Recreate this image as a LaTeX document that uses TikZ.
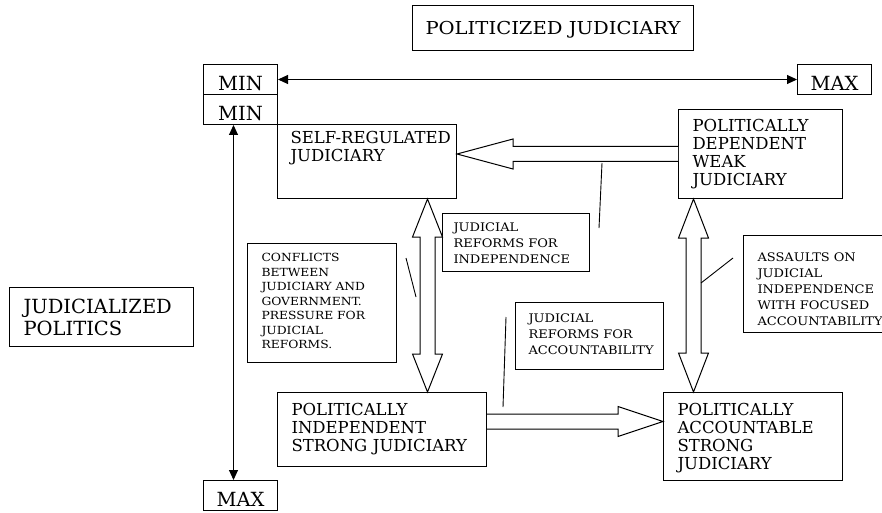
\documentclass[tikz,border=0pt]{standalone}
\usepackage{fontspec}
\setmainfont{DejaVu Serif}
\newfontfamily\widefont{DejaVu Serif}[FakeStretch=1.1]
\usepackage{tikz}
\usetikzlibrary{positioning}
\usetikzlibrary{calc,arrows.meta}
\hyphenpenalty=10000
\exhyphenpenalty=10000

\begin{document}
\begin{tikzpicture}[x=1pt, y=-1pt, line width=1pt,
  box/.style = {draw, anchor=north west, align=left, font=\fontsize{16.5}{18}\selectfont, text height=12pt},
  note/.style = {draw, anchor=north west, align=left, font=\widefont\fontsize{11.8}{16}\selectfont, text height=8.5pt},
  ends/.style = {draw, anchor=north west, minimum width=74pt, minimum height=30pt, inner sep=0pt,
                 text height=22pt, text depth=0pt, font=\fontsize{19.5}{21}\selectfont},
  tip/.style = {{Triangle[length=10pt,width=9pt]}-{Triangle[length=10pt,width=9pt]}},
  lead/.style = {line width=0.9pt},
  fat/.style = {fill=white, to path={
    ($(\tikztostart)!7.5pt!-90:(\tikztotarget)$)
    -- ($(\tikztotarget)!#1!(\tikztostart)!7.5pt!90:(\tikztostart)$)
    -- ($(\tikztotarget)!#1!(\tikztostart)!15pt!90:(\tikztostart)$)
    -- (\tikztotarget)
    -- ($(\tikztotarget)!#1!(\tikztostart)!15pt!-90:(\tikztostart)$)
    -- ($(\tikztotarget)!#1!(\tikztostart)!7.5pt!-90:(\tikztostart)$)
    -- ($(\tikztostart)!7.5pt!90:(\tikztotarget)$)}},
  fatboth/.style = {fill=white, to path={
    (\tikztostart)
    -- ($(\tikztostart)!#1!(\tikztotarget)!15pt!-90:(\tikztotarget)$)
    -- ($(\tikztostart)!#1!(\tikztotarget)!7.5pt!-90:(\tikztotarget)$)
    -- ($(\tikztotarget)!#1!(\tikztostart)!7.5pt!90:(\tikztostart)$)
    -- ($(\tikztotarget)!#1!(\tikztostart)!15pt!90:(\tikztostart)$)
    -- (\tikztotarget)
    -- ($(\tikztotarget)!#1!(\tikztostart)!15pt!-90:(\tikztostart)$)
    -- ($(\tikztotarget)!#1!(\tikztostart)!7.5pt!-90:(\tikztostart)$)
    -- ($(\tikztostart)!#1!(\tikztotarget)!7.5pt!90:(\tikztotarget)$)
    -- ($(\tikztostart)!#1!(\tikztotarget)!15pt!90:(\tikztotarget)$)
    -- cycle}}]
  \useasboundingbox (0,0) rectangle (882,513);

  % axis labels
  \node[box, align=center, font=\widefont\fontsize{17.8}{20}\selectfont, minimum width=281pt,
    minimum height=45pt, inner sep=0pt, text height=13pt, text depth=0pt]
    (title) at (412,5) {POLITICIZED JUDICIARY};
  \node[box, font=\fontsize{19.5}{21.5}\selectfont, text height=14pt, inner xsep=14pt, inner ysep=12pt,
    text width=156pt, text depth=21pt] (jpol) at (9,287) {JUDICIALIZED\\POLITICS};
  \node[ends] (mintop) at (203,64) {MIN};
  \node[ends] (minbot) at (203,94) {MIN};
  \node[ends] (maxr) at (797,64) {MAX};
  \node[ends] (maxb) at (203,480) {MAX};
  \draw[tip] (mintop.east) -- (maxr.west);
  \draw[tip] ([xshift=-7pt]minbot.south) -- ([xshift=-7pt]maxb.north);

  % the four judiciaries
  \node[box, inner xsep=13pt, inner ysep=7pt, text width=153pt, text depth=48pt]
    (selfreg) at (277,124) {SELF-REGULATED\\JUDICIARY};
  \node[box, inner xsep=14pt, inner ysep=10pt, text width=136pt, text depth=57pt]
    (dep) at (678,109) {POLITICALLY\\DEPENDENT\\WEAK\\JUDICIARY};
  \node[box, inner xsep=14pt, inner ysep=11pt, text width=181pt, text depth=40pt]
    (indep) at (277,392) {POLITICALLY\\INDEPENDENT\\STRONG~JUDICIARY};
  \node[box, inner xsep=14pt, inner ysep=11pt, text width=151pt, text depth=54pt]
    (acc) at (663,392) {POLITICALLY\\ACCOUNTABLE\\STRONG\\JUDICIARY};

  % callouts
  \node[note, inner xsep=11pt, inner ysep=9pt, text width=125pt, text depth=31.5pt]
    (callind) at (442,213) {JUDICIAL\\REFORMS~FOR\\INDEPENDENCE};
  \node[note, font=\widefont\fontsize{11.2}{14.5}\selectfont, text height=8pt, inner xsep=14pt, inner ysep=10pt,
    text width=121pt, text depth=91pt]
    (callconf) at (247,243) {CONFLICTS\\BETWEEN\\JUDICIARY~AND\\GOVERNMENT.\\PRESSURE~FOR\\JUDICIAL\\REFORMS.};
  \node[note, inner xsep=13pt, inner ysep=11pt, text width=122pt, text depth=36.5pt]
    (callacc) at (515,302) {JUDICIAL\\REFORMS~FOR\\ACCOUNTABILITY};
  \node[note, text height=16.5pt, inner xsep=14pt, inner ysep=9pt, text width=130pt, text depth=62.5pt]
    (callass) at (743,235) {ASSAULTS~ON\\JUDICIAL\\INDEPENDENCE\\WITH~FOCUSED\\ACCOUNTABILITY};

  % hollow arrows
  \coordinate (a1s) at (dep.west);
  \coordinate (a1t) at (a1s -| selfreg.east);
  \coordinate (a2s) at ([xshift=60.5pt]selfreg.south);
  \coordinate (a2t) at (a2s |- indep.north);
  \coordinate (a3s) at ([xshift=-67pt]dep.south);
  \coordinate (a3t) at (a3s |- acc.north);
  \coordinate (a4s) at ([yshift=8pt]indep.east);
  \coordinate (a4t) at (a4s -| acc.west);
  \draw[fat=56pt] (a1s) to (a1t);
  \draw[fatboth=38pt] (a2s) to (a2t);
  \draw[fatboth=39pt] (a3s) to (a3t);
  \draw[fat=45pt] (a4s) to (a4t);

  % leader lines
  \coordinate (l1a) at (602,163);
  \coordinate (l1b) at (599,228);
  \coordinate (l2a) at (406,258);
  \coordinate (l2b) at (416,297);
  \coordinate (l3a) at (506,317);
  \coordinate (l3b) at (503,407);
  \coordinate (l4a) at (701,283);
  \coordinate (l4b) at (733,258);
  \draw[lead] (l1a) -- (l1b);
  \draw[lead] (l2a) -- (l2b);
  \draw[lead] (l3a) -- (l3b);
  \draw[lead] (l4a) -- (l4b);
\end{tikzpicture}
\end{document}
